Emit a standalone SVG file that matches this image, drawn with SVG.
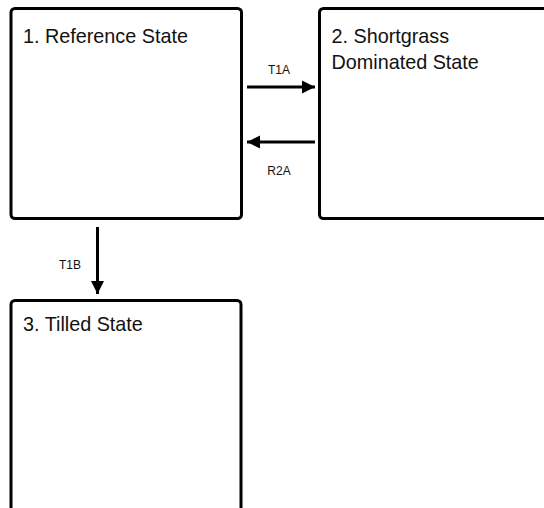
<svg xmlns="http://www.w3.org/2000/svg" width="544" height="508" viewBox="0 0 544 508">
  <defs>
    <style>
      .box { fill: #ffffff; stroke: #000000; stroke-width: 3; }
      .title { font-family: "Liberation Sans", Arial, sans-serif; font-size: 19.8px; fill: #111111; }
      .lbl { font-family: "Liberation Sans", Arial, sans-serif; font-size: 12px; fill: #111111; text-anchor: middle; }
      .conn { stroke: #000000; stroke-width: 3; fill: none; }
    </style>
    <marker id="ah" viewBox="0 0 10 10" refX="10" refY="5" markerWidth="4.4" markerHeight="4.4" markerUnits="strokeWidth" orient="auto">
      <path d="M0,0 L10,5 L0,10 Z" fill="#000000"/>
    </marker>
  </defs>
  <rect width="544" height="508" fill="#ffffff"/>
  <g id="node1">
    <rect class="box" x="11" y="8.5" width="230.5" height="210" rx="4"/>
    <text class="title" x="23" y="43">1. Reference State</text>
  </g>
  <g id="node2">
    <rect class="box" x="319.5" y="8.5" width="240" height="210" rx="4"/>
    <text class="title" x="331.5" y="43">2. Shortgrass</text>
    <text class="title" x="331.5" y="69">Dominated State</text>
  </g>
  <g id="node3">
    <rect class="box" x="11" y="300.5" width="230" height="230" rx="4"/>
    <text class="title" x="23" y="331">3. Tilled State</text>
  </g>
  <g id="connectors">
    <line class="conn" x1="247" y1="87" x2="315" y2="87" marker-end="url(#ah)"/>
    <text class="lbl" x="279" y="74">T1A</text>
    <line class="conn" x1="315" y1="142" x2="247" y2="142" marker-end="url(#ah)"/>
    <text class="lbl" x="279" y="175">R2A</text>
    <line class="conn" x1="97.5" y1="227" x2="97.5" y2="294" marker-end="url(#ah)"/>
    <text class="lbl" x="70" y="269">T1B</text>
  </g>
</svg>
